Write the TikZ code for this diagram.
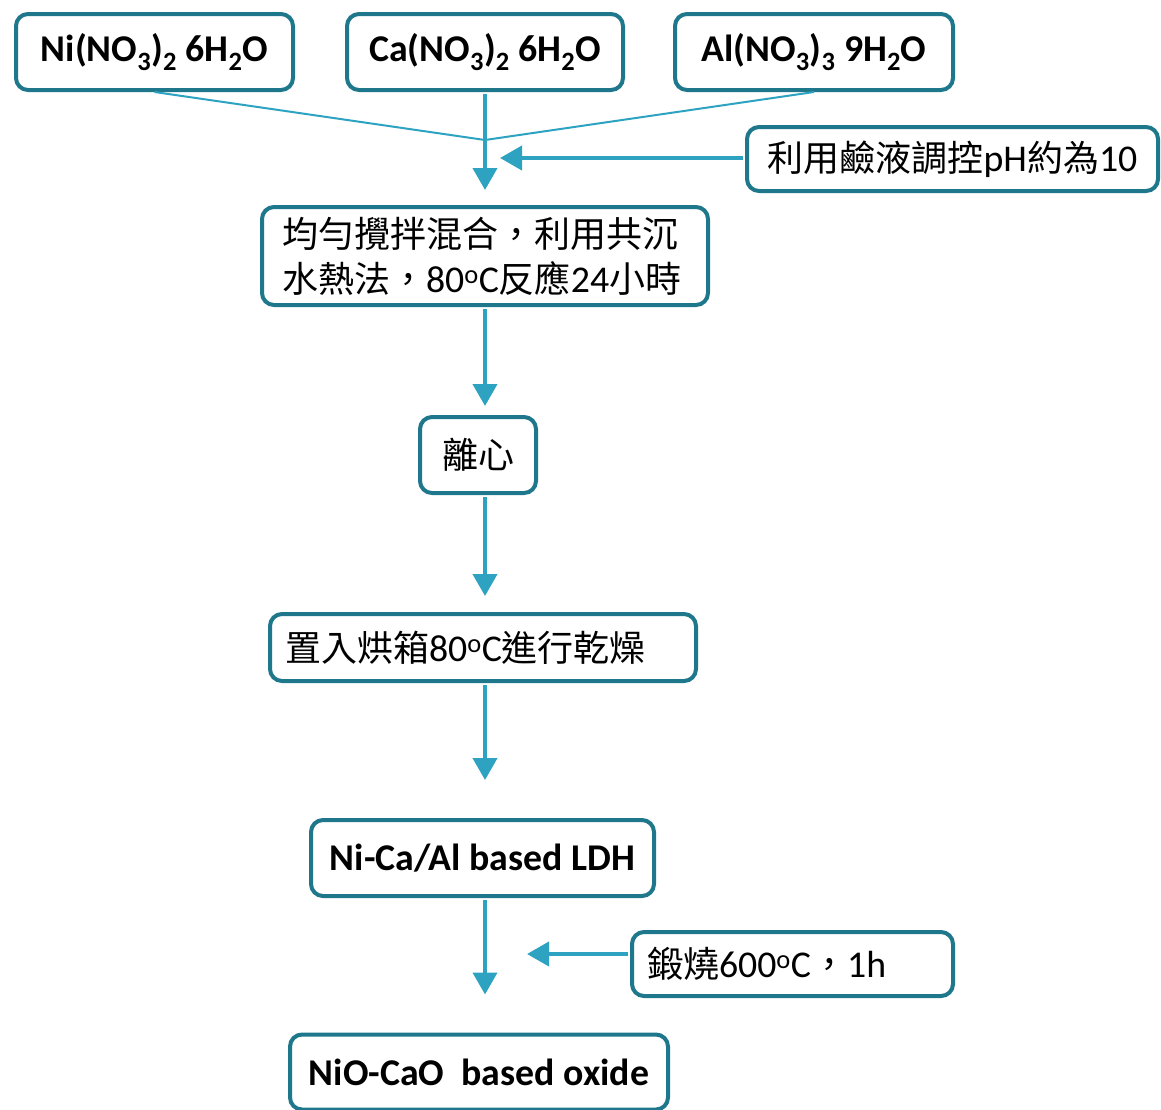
\documentclass[tikz,border=0pt]{standalone}
\usepackage{fontspec}
\setmainfont{Carlito}[Scale=1.05]
\newfontfamily\cjk{Noto Sans CJK TC}
\newcommand\tcomma{{\cjk\mbox{，}}}
\usetikzlibrary{arrows.meta}
\definecolor{bordc}{HTML}{1F778C}
\definecolor{arrc}{HTML}{2EA3C1}
\begin{document}
\begin{tikzpicture}[x=1pt,y=-1pt,
  box/.style={draw=bordc, line width=4pt, rounded corners=12pt, fill=white,
    inner sep=0pt, align=center, font=\fontsize{36}{45}\selectfont},
  lbox/.style={box, align=left},
  arr/.style={draw=arrc, line width=4pt, -{Triangle[width=24pt,length=22pt]}, shorten <=2pt},
  thinline/.style={draw=arrc, line width=2pt}]
\useasboundingbox (0,0) rectangle (1161,1109);
\clip (0,0) rectangle (1161,1109);
% boxes
\node[box, minimum width=277pt, minimum height=76pt] (ni) at (154.5,52)
  {\bfseries Ni(NO\textsubscript{3})\textsubscript{2} 6H\textsubscript{2}O};
\node[box, minimum width=276pt, minimum height=76pt] (ca) at (485,52)
  {\bfseries Ca(NO\textsubscript{3})\textsubscript{2} 6H\textsubscript{2}O};
\node[box, minimum width=278pt, minimum height=76pt] (al) at (814,52)
  {\bfseries Al(NO\textsubscript{3})\textsubscript{3} 9H\textsubscript{2}O};
\node[box, minimum width=411pt, minimum height=64pt] (ph) at (952.5,159)
  {{\cjk 利用鹼液調控}pH{\cjk 約為}10};
\node[lbox, text width=406pt, inner xsep=20pt, minimum height=98pt] (mix) at (485,256)
  {\mbox{{\cjk 均勻攪拌混合}\tcomma{\cjk 利用共沉}}\\\mbox{{\cjk 水熱法}\tcomma 80\textsuperscript{o}C{\cjk 反應}24{\cjk 小時}}};
\node[box, minimum width=116pt, minimum height=76pt] (cent) at (478,455)
  {\cjk 離心};
\node[lbox, text width=396pt, inner xsep=15pt, minimum height=67pt] (dry) at (483,647.5)
  {\mbox{{\cjk 置入烘箱}80\textsuperscript{o}C{\cjk 進行乾燥}}};
\node[box, minimum width=343pt, minimum height=76pt] (ldh) at (482.5,858)
  {\bfseries Ni-Ca/Al based LDH};
\node[lbox, text width=291pt, inner xsep=15pt, minimum height=64pt] (calc) at (792.5,964)
  {\mbox{{\cjk 鍛燒}600\textsuperscript{o}C\tcomma 1h}};
\node[box, minimum width=378pt, minimum height=75pt] (oxide) at (479,1072)
  {\bfseries NiO-CaO\ \ based oxide};
% coordinates
\coordinate (join) at (485,140);
\coordinate (phend) at (500,158);
\coordinate (calcend) at (527,954);
% connectors
\draw[thinline] (ni.south) -- (join);
\draw[thinline] (al.south) -- (join);
\draw[arr, shorten >=15pt] (ca.south) -- (mix.north);
\draw[arr, shorten >=0pt] (ph.west |- phend) -- (phend);
\draw[arr, shorten >=9pt] (mix.south) -- (mix.south |- cent.north);
\draw[arr, shorten >=16pt] (mix.south |- cent.south) -- (mix.south |- dry.north);
\draw[arr, shorten >=38pt] (mix.south |- dry.south) -- (mix.south |- ldh.north);
\draw[arr, shorten >=38pt] (mix.south |- ldh.south) -- (mix.south |- oxide.north);
\draw[arr, shorten >=0pt] (calc.west |- calcend) -- (calcend);
\end{tikzpicture}
\end{document}
